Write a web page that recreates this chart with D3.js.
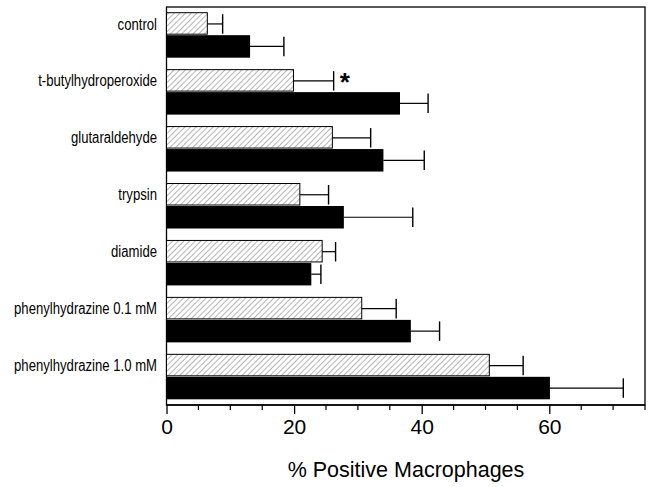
<!DOCTYPE html>
<html><head><meta charset="utf-8">
<script src="https://cdn.jsdelivr.net/npm/d3@7"></script>
<style>body{margin:0;background:#fff}svg{display:block}</style>
</head><body>
<svg id="c" width="648" height="487"></svg>
<script>
const categories = ["control","t-butylhydroperoxide","glutaraldehyde","trypsin","diamide","phenylhydrazine 0.1 mM","phenylhydrazine 1.0 mM"];
const hatchedValues = [6.4, 19.9, 26.0, 20.9, 24.4, 30.6, 50.6];
const hatchedErrors = [2.4, 6.3, 6.0, 4.5, 2.1, 5.4, 5.3];
const solidValues = [13.1, 36.6, 34.0, 27.8, 22.7, 38.3, 60.1];
const solidErrors = [5.3, 4.4, 6.4, 10.8, 1.5, 4.5, 11.5];
const majorTicks = [0, 20, 40, 60];
const minorTicks = d3.range(0, 76, 5);
const xTitle = "% Positive Macrophages";
const significant = [1]; // asterisk on hatched bar of t-butylhydroperoxide

const svg = d3.select("#c");
const L = 166.5, R = 645, T = 7, B = 405;
const x = d3.scaleLinear().domain([0, 75]).range([L, R]);
const y = d3.scaleBand().domain(categories).range([T, B]).paddingInner(0.21).paddingOuter(0.1);
const sub = d3.scaleBand().domain(["h","s"]).range([0, y.bandwidth()]).padding(0);

const defs = svg.append("defs");
const P = 4;
const pat = defs.append("pattern").attr("id","hatch").attr("patternUnits","userSpaceOnUse")
  .attr("width",P).attr("height",P).attr("patternTransform","rotate(45)");
pat.append("rect").attr("width",P).attr("height",P).attr("fill","#fff");
pat.append("line").attr("x1",0).attr("y1",0).attr("x2",0).attr("y2",P)
  .attr("stroke","#3a3a3a").attr("stroke-width",0.75);

// frame
svg.append("rect").attr("x",L).attr("y",T).attr("width",R-L).attr("height",B-T)
  .attr("fill","none").attr("stroke","#000").attr("stroke-width",1.3);

const g = svg.append("g");
const bh = sub.bandwidth();
const labels = [];
categories.forEach((c,i)=>{
  const yh = y(c) + sub("h"), ys = y(c) + sub("s");
  g.append("rect").attr("x",x(0)).attr("y",yh).attr("width",x(hatchedValues[i])-x(0)).attr("height",bh-1)
    .attr("fill","url(#hatch)").attr("stroke","#000").attr("stroke-width",1);
  g.append("rect").attr("x",x(0)).attr("y",ys).attr("width",x(solidValues[i])-x(0)).attr("height",bh)
    .attr("fill","#000");
  const eb = (yy, v, e) => {
    const cy = yy + bh/2;
    g.append("line").attr("x1",x(v)).attr("x2",x(v+e)).attr("y1",cy).attr("y2",cy).attr("stroke","#000").attr("stroke-width",1.2);
    g.append("line").attr("x1",x(v+e)).attr("x2",x(v+e)).attr("y1",yy+1.5).attr("y2",yy+bh-1.5).attr("stroke","#000").attr("stroke-width",1.4);
  };
  eb(yh, hatchedValues[i], hatchedErrors[i]);
  eb(ys, solidValues[i], solidErrors[i]);
  const t = svg.append("text").attr("dy","0.35em")
    .attr("text-anchor","end").attr("font-family","'Liberation Sans',Arial,sans-serif")
    .attr("font-size",16).attr("fill","#000").text(c);
  labels.push({t, yy: yh + bh/2});
  if (significant.includes(i)) {
    svg.append("text").attr("x",x(hatchedValues[i]+hatchedErrors[i])+6).attr("y",yh+bh/2+10)
      .attr("font-family","'Liberation Sans',Arial,sans-serif").attr("font-weight","bold")
      .attr("font-size",26).text("*");
  }
});
// condense label text to match narrow face
const longest = labels[6].t.node().getComputedTextLength();
const k = Math.min(1, 143 / longest);
labels.forEach(({t, yy}) => t.attr("transform", `translate(157,${yy}) scale(${k},1)`));

// axis
const ax = svg.append("g").attr("transform",`translate(0,${B})`);
ax.call(d3.axisBottom(x).tickValues(majorTicks).tickSize(9).tickPadding(5).tickFormat(d3.format("d")));
ax.select(".domain").attr("stroke-width",1.3).attr("d",`M${L},0H${R}`);
ax.selectAll(".tick line").attr("stroke-width",1.3);
ax.selectAll(".tick text").attr("font-family","'Liberation Sans',Arial,sans-serif").attr("font-size",21).attr("fill","#000");
svg.append("g").attr("transform",`translate(0,${B})`).selectAll("line").data(minorTicks.filter(t=>!majorTicks.includes(t)))
  .join("line").attr("x1",d=>x(d)).attr("x2",d=>x(d)).attr("y1",0).attr("y2",5).attr("stroke","#000").attr("stroke-width",1.2);

svg.append("text").attr("x",406).attr("y",477).attr("text-anchor","middle")
  .attr("font-family","'Liberation Sans',Arial,sans-serif").attr("font-size",21.5).attr("fill","#000").text(xTitle);
</script>
</body></html>
